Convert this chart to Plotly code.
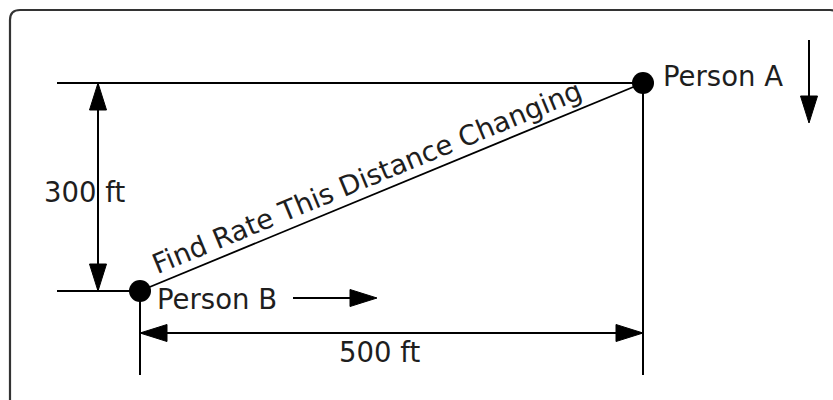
import math
import plotly.graph_objects as go

# ---------------- data (feet) ----------------
person_names = ["Person A", "Person B"]
person_x = [500, 0]          # ft
person_y = [300, 0]          # ft
width_ft = 500
height_ft = 300
dim_labels = ["300 ft", "500 ft"]
diag_label = "Find Rate This Distance Changing"

# ---------------- layout constants ----------------
W, H = 833, 400
ORIGIN_PX = (140, 291)       # pixel position of Person B
SX = 503 / 500               # px per ft (horizontal)
SY = 208 / 300               # px per ft (vertical)
FONT = dict(family="DejaVu Sans", size=27.5, color="#1e1e1e")
LINE = dict(color="black", width=2)

x_range = [-ORIGIN_PX[0] / SX, (W - ORIGIN_PX[0]) / SX]
y_range = [(ORIGIN_PX[1] - H) / SY, ORIGIN_PX[1] / SY]


def fx(px):
    return px / SX


def fy(py):
    return py / SY


ax_, ay_ = person_x[0], person_y[0]
bx_, by_ = person_x[1], person_y[1]

fig = go.Figure()


def seg(x0, y0, x1, y1, width=2):
    fig.add_trace(go.Scatter(x=[x0, x1], y=[y0, y1], mode="lines",
                             line=dict(color="black", width=width),
                             hoverinfo="skip"))


def head(tx, ty, dx, dy, L=27, hw=8.5):
    # dx, dy: unit direction in screen-up pixel space
    bxp, byp = -dx * L, -dy * L
    px_, py_ = -dy * hw, dx * hw
    xs = [tx, tx + fx(bxp + px_), tx + fx(bxp - px_), tx]
    ys = [ty, ty + fy(byp + py_), ty + fy(byp - py_), ty]
    fig.add_trace(go.Scatter(x=xs, y=ys, mode="lines", fill="toself",
                             fillcolor="black", line=dict(color="black", width=1),
                             hoverinfo="skip"))


ext = fx(83)
# reference lines
seg(bx_ - ext, ay_, ax_, ay_)
seg(bx_ - ext, by_, bx_, by_)
# vertical extension lines
drop = fy(84)
seg(bx_, by_, bx_, by_ - drop)
seg(ax_, ay_, ax_, by_ - drop)
# vertical dimension arrow
vx = bx_ - fx(42)
seg(vx, by_, vx, by_ + height_ft)
head(vx, by_ + height_ft, 0, 1)
head(vx, by_, 0, -1)
# horizontal dimension arrow
hy = by_ - fy(42)
seg(bx_, hy, bx_ + width_ft, hy)
head(bx_, hy, -1, 0)
head(bx_ + width_ft, hy, 1, 0)
# diagonal
seg(bx_, by_, ax_, ay_, width=1.8)
# Person B motion arrow
my = by_ - fy(7)
seg(bx_ + fx(153), my, bx_ + fx(230), my)
head(bx_ + fx(237), my, 1, 0)
# Person A motion arrow
mx = ax_ + fx(166)
seg(mx, ay_ + fy(43), mx, ay_ - fy(33))
head(mx, ay_ - fy(40), 0, -1)

# persons
fig.add_trace(go.Scatter(x=person_x, y=person_y, mode="markers",
                         marker=dict(size=22, color="black"), hoverinfo="skip"))

ann = []
ann.append(dict(x=ax_, y=ay_, text=person_names[0], xanchor="left", yanchor="middle",
                xshift=18, yshift=7, showarrow=False, font=FONT))
ann.append(dict(x=bx_, y=by_, text=person_names[1], xanchor="left", yanchor="middle",
                xshift=15, yshift=-8, showarrow=False, font=FONT))
ann.append(dict(x=vx, y=by_ + height_ft / 2, text=dim_labels[0], xanchor="center",
                yanchor="middle", xshift=-14, yshift=-5, showarrow=False, font=FONT))
ann.append(dict(x=bx_ + width_ft / 2, y=hy, text=dim_labels[1], xanchor="center",
                yanchor="middle", xshift=-12, yshift=-19, showarrow=False, font=FONT))
angle = math.degrees(math.atan2(height_ft * SY, width_ft * SX))
ann.append(dict(x=(ax_ + bx_) / 2, y=(ay_ + by_) / 2, text=diag_label, textangle=-angle,
                xanchor="center", yanchor="middle", xshift=-25, yshift=10,
                showarrow=False, font=FONT))

# rounded frame (pixel -> paper)
def P(x, y):
    return f"{x / W:.5f},{1 - y / H:.5f}"

frame = (f"M {P(10, 405)} L {P(10, 20)} Q {P(10, 10)} {P(20, 10)} "
         f"L {P(830, 10)} Q {P(840, 10)} {P(840, 20)} L {P(840, 405)}")

fig.update_layout(
    width=W, height=H, margin=dict(l=0, r=0, t=0, b=0),
    paper_bgcolor="white", plot_bgcolor="white", showlegend=False,
    hovermode=False,
    xaxis=dict(range=x_range, visible=False, fixedrange=True),
    yaxis=dict(range=y_range, visible=False, fixedrange=True),
    annotations=ann,
    shapes=[dict(type="path", xref="paper", yref="paper", path=frame,
                 line=dict(color="#333333", width=2.2))],
)

fig.write_html("out.html", post_script="document.body.style.margin='0';",
               config={"displayModeBar": False})
